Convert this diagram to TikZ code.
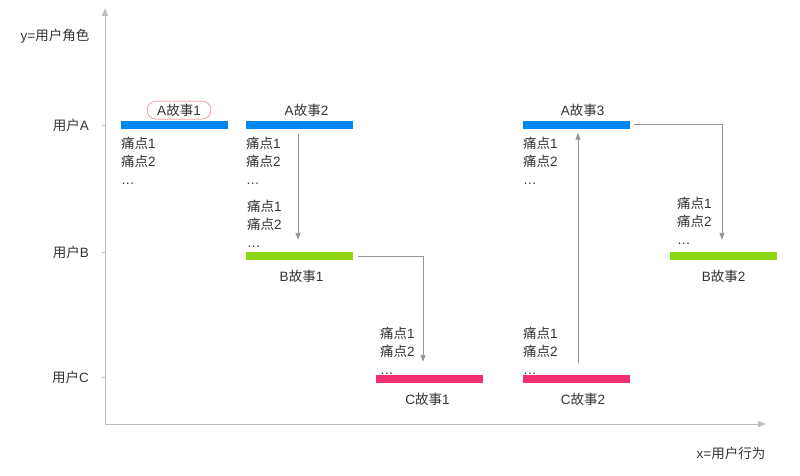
\documentclass[tikz,border=0pt]{standalone}
\usepackage{fontspec}
\setmainfont{Liberation Sans}
\newfontfamily\cjk{Noto Sans CJK SC}
\usetikzlibrary{arrows.meta, positioning, calc}
\definecolor{storyblue}{RGB}{0, 136, 240}
\definecolor{storygreen}{RGB}{140, 214, 20}
\definecolor{storypink}{RGB}{240, 46, 110}
\definecolor{axisgray}{RGB}{190, 190, 190}
\definecolor{flowgray}{RGB}{150, 150, 150}
\definecolor{markred}{RGB}{230, 90, 100}
\newcommand{\zh}[1]{{\cjk #1}}
\tikzset{
  bar/.style={rectangle, fill=#1, minimum width=107pt, minimum height=8pt, inner sep=0pt},
  bar/.default=storyblue,
  axis/.style={-{Triangle[length=8pt, width=6pt]}, axisgray, line width=1pt},
  flow/.style={-{Triangle[length=7pt, width=5pt]}, flowgray, line width=0.9pt},
  tag/.style={font=\fontsize{13.5}{16}\selectfont, text=black!80, inner sep=1pt},
  circled/.style={tag, draw=markred, rounded corners=9pt, minimum width=64pt, minimum height=18pt},
  note/.style={font=\fontsize{13.5}{18}\selectfont, align=left, inner sep=0pt, text=black!80},
}

\begin{document}
\begin{tikzpicture}[x=1pt, y=-1pt]
        \useasboundingbox (0,0) rectangle (800,475);

        % Axes
        \coordinate (origin) at (105,424);
        \coordinate (ytip) at (105,8);
        \coordinate (xtip) at (766,424);
        \draw[axis] (origin) -- (ytip);
        \draw[axis] (origin) -- (xtip);
        \node[tag] (ylab) at (55,36) {y=\zh{用户角色}};
        \node[tag] (xlab) at (731,453) {x=\zh{用户行为}};
        \foreach \y/\u in {125/A, 252/B, 377/C} {
          \draw[axisgray, line width=1pt] (102,\y) -- (105,\y);
          \node[tag, anchor=east] (user\u) at (90,\y) {\zh{用户}\u};
        }

        % Story bars
        \node[bar] (a1) at (174.5,124.5) {};
        \node[bar] (a2) at (299.5,124.5) {};
        \node[bar] (a3) at (576.5,124.5) {};
        \node[bar=storygreen] (b1) at (299.5,256) {};
        \node[bar=storygreen] (b2) at (723.5,256) {};
        \node[bar=storypink] (c1) at (429.5,379) {};
        \node[bar=storypink] (c2) at (576.5,379) {};

        % Story names
        \node[circled, above=1pt of a1, xshift=4.5pt] (a1t) {A\zh{故事}1};
        \node[tag, above=2pt of a2, xshift=7pt] (a2t) {A\zh{故事}2};
        \node[tag, above=2pt of a3, xshift=6pt] (a3t) {A\zh{故事}3};
        \node[tag, below=9pt of b1, xshift=2pt] (b1t) {B\zh{故事}1};
        \node[tag, below=9pt of b2] (b2t) {B\zh{故事}2};
        \node[tag, below=9pt of c1, xshift=-2pt] (c1t) {C\zh{故事}1};
        \node[tag, below=9pt of c2, xshift=6.5pt] (c2t) {C\zh{故事}2};

        % Pain points
        \node[note, below right=8pt and 0pt of a1.south west] (a1p) {\zh{痛点}1\\\zh{痛点}2\\…};
        \node[note, below right=8pt and 0pt of a2.south west] (a2p) {\zh{痛点}1\\\zh{痛点}2\\…};
        \node[note, below right=8pt and 0pt of a3.south west] (a3p) {\zh{痛点}1\\\zh{痛点}2\\…};
        \node[note, above right=4pt and 1pt of b1.north west] (b1p) {\zh{痛点}1\\\zh{痛点}2\\…};
        \node[note, above right=7pt and 7pt of b2.north west] (b2p) {\zh{痛点}1\\\zh{痛点}2\\…};
        \node[note, above right=0pt and 4pt of c1.north west] (c1p) {\zh{痛点}1\\\zh{痛点}2\\…};
        \node[note, above right=0pt and 0pt of c2.north west] (c2p) {\zh{痛点}1\\\zh{痛点}2\\…};

        % Flow between stories
        \draw[flow] ([xshift=-1.5pt, yshift=-5pt]a2.south) -- ([xshift=-1.5pt, yshift=12pt]b1.north);
        \draw[flow] ([xshift=5pt]b1.east) -| ([xshift=-6.5pt, yshift=13pt]c1.north);
        \draw[flow] ([xshift=1.5pt, yshift=12pt]c2.north) -- ([xshift=1.5pt, yshift=-4pt]a3.south);
        \draw[flow] ([xshift=4pt]a3.east) -| ([xshift=-1.5pt, yshift=12pt]b2.north);
\end{tikzpicture}
\end{document}
